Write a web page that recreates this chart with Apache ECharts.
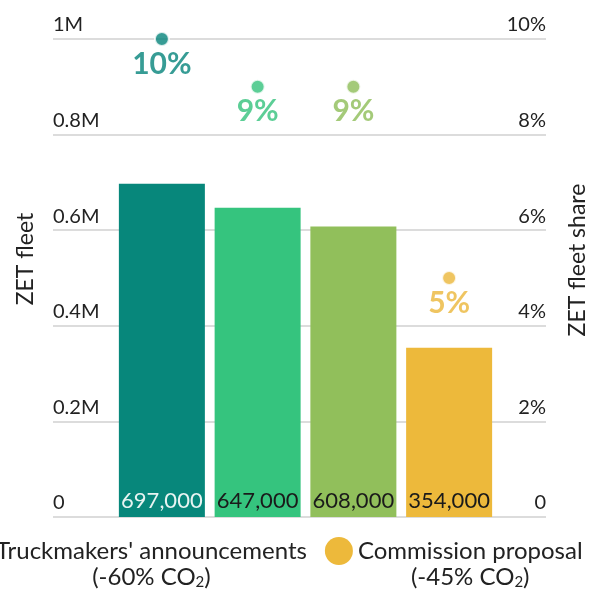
<!DOCTYPE html>
<html>
<head>
<meta charset="utf-8">
<script src="https://cdn.jsdelivr.net/npm/echarts@6/dist/echarts.min.js"></script>
<style>
  html, body { margin: 0; padding: 0; background: #fff; }
  #chart { width: 590px; height: 593px; }
</style>
</head>
<body>
<div id="chart"></div>
<script>
const categories = ['Truckmakers A', 'Truckmakers B', 'Truckmakers C', 'Commission']
const fleetAnnouncements = [697000, 647000, 608000, null]
const fleetCommission = [null, null, null, 354000]
const fleetShare = [10, 9, 9, 5]
const barColors = ['#07877b', '#35c47e', '#91bf5b', '#edb93b']
const shareColors = ['#05837a', '#33c27c', '#8dbd58', '#ebb73a']
const legendNames = ["Truckmakers' announcements\n(-60% CO2)", 'Commission proposal\n(-45% CO2)']

const FONT = 'Lato'
const chart = echarts.init(document.getElementById('chart'))

function fleetLabel(v) {
  if (v === 0) return '0'
  if (v >= 1000000) return (v / 1000000) + 'M'
  return (v / 1000000).toFixed(1) + 'M'
}

const option = {
  animation: false,
  textStyle: { fontFamily: FONT },
  grid: [
    // gridlines + tick labels
    { left: 53, right: 44, top: 39, bottom: 76, outerBoundsMode: 'none' },
    // bars + share dots
    { left: 114, right: 93, top: 39, bottom: 76, outerBoundsMode: 'none' }
  ],
  legend: {
    data: legendNames,
    left: -42,
    top: 532,
    width: 900,
    icon: 'circle',
    itemWidth: 28,
    itemHeight: 28,
    itemGap: 18,
    selectedMode: false,
    formatter(name) {
      const lines = name.split('\n')
      const sub = lines[1].replace('CO2)', '')
      return '{a|' + lines[0] + '}\n{a|' + sub + 'CO}{s|2}{a|)}'
    },
    textStyle: {
      color: '#222',
      fontFamily: FONT,
      padding: [26, 0, 0, 0],
      rich: {
        a: { fontSize: 24, lineHeight: 26, align: 'center', color: '#222', fontFamily: FONT },
        s: { fontSize: 15, lineHeight: 26, align: 'center', verticalAlign: 'bottom', color: '#222', fontFamily: FONT }
      }
    }
  },
  xAxis: [
    { gridIndex: 0, type: 'value', min: 0, max: 1, show: false },
    { gridIndex: 1, type: 'category', data: categories, show: false }
  ],
  yAxis: [
    {
      gridIndex: 0,
      type: 'value',
      position: 'left',
      min: 0,
      max: 1000000,
      interval: 200000,
      name: 'ZET fleet',
      nameLocation: 'middle',
      nameRotate: 90,
      nameGap: 16,
      nameTextStyle: { color: '#222', fontSize: 23, fontFamily: FONT, padding: [0, 0, 0, 38] },
      axisLine: { show: false },
      axisTick: { show: false },
      axisLabel: {
        inside: true,
        align: 'left',
        verticalAlign: 'bottom',
        padding: [0, 0, 4, 0],
        margin: 0,
        color: '#222',
        fontSize: 20,
        formatter: fleetLabel
      },
      splitLine: { lineStyle: { color: '#d0d0d0', width: 1.5 } }
    },
    {
      gridIndex: 0,
      type: 'value',
      position: 'right',
      min: 0,
      max: 10,
      interval: 2,
      name: 'ZET fleet share',
      nameLocation: 'middle',
      nameRotate: 90,
      nameGap: 20,
      nameTextStyle: { color: '#222', fontSize: 23, fontFamily: FONT, padding: [0, 0, 0, 36] },
      axisLine: { show: false },
      axisTick: { show: false },
      axisLabel: {
        inside: true,
        align: 'right',
        verticalAlign: 'bottom',
        padding: [0, 0, 4, 0],
        margin: 0,
        color: '#222',
        fontSize: 20,
        formatter: v => v === 0 ? '0' : v + '%'
      },
      splitLine: { show: false }
    },
    { gridIndex: 1, type: 'value', min: 0, max: 1000000, show: false },
    { gridIndex: 1, type: 'value', min: 0, max: 10, show: false }
  ],
  series: [
    {
      name: legendNames[0],
      type: 'bar',
      xAxisIndex: 1,
      yAxisIndex: 2,
      stack: 'fleet',
      barWidth: 86,
      itemStyle: { color: barColors[0] },
      data: fleetAnnouncements.map((v, i) => ({
        value: v,
        itemStyle: { color: barColors[i] },
        label: { color: i === 0 ? '#e8f4f2' : '#1a1a1a' }
      })),
      label: {
        show: true,
        position: 'insideBottom',
        distance: 5,
        fontSize: 22,
        fontFamily: FONT,
        formatter: p => p.value == null ? '' : p.value.toLocaleString('en-US')
      }
    },
    {
      name: legendNames[1],
      type: 'bar',
      xAxisIndex: 1,
      yAxisIndex: 2,
      stack: 'fleet',
      barWidth: 86,
      itemStyle: { color: barColors[3] },
      data: fleetCommission,
      label: {
        show: true,
        position: 'insideBottom',
        distance: 5,
        fontSize: 22,
        fontFamily: FONT,
        color: '#1a1a1a',
        formatter: p => p.value == null ? '' : p.value.toLocaleString('en-US')
      }
    },
    {
      name: 'ZET fleet share',
      type: 'scatter',
      xAxisIndex: 1,
      yAxisIndex: 3,
      symbolSize: 14,
      z: 5,
      data: fleetShare.map((v, i) => ({
        value: v,
        itemStyle: { color: shareColors[i], borderColor: '#fff', borderWidth: 2 },
        label: { color: shareColors[i] }
      })),
      label: {
        show: true,
        position: 'bottom',
        distance: 2,
        fontSize: 30,
        fontWeight: 'bold',
        fontFamily: FONT,
        formatter: p => p.value + '%'
      }
    }
  ]
}

chart.setOption(option)
</script>
</body>
</html>
